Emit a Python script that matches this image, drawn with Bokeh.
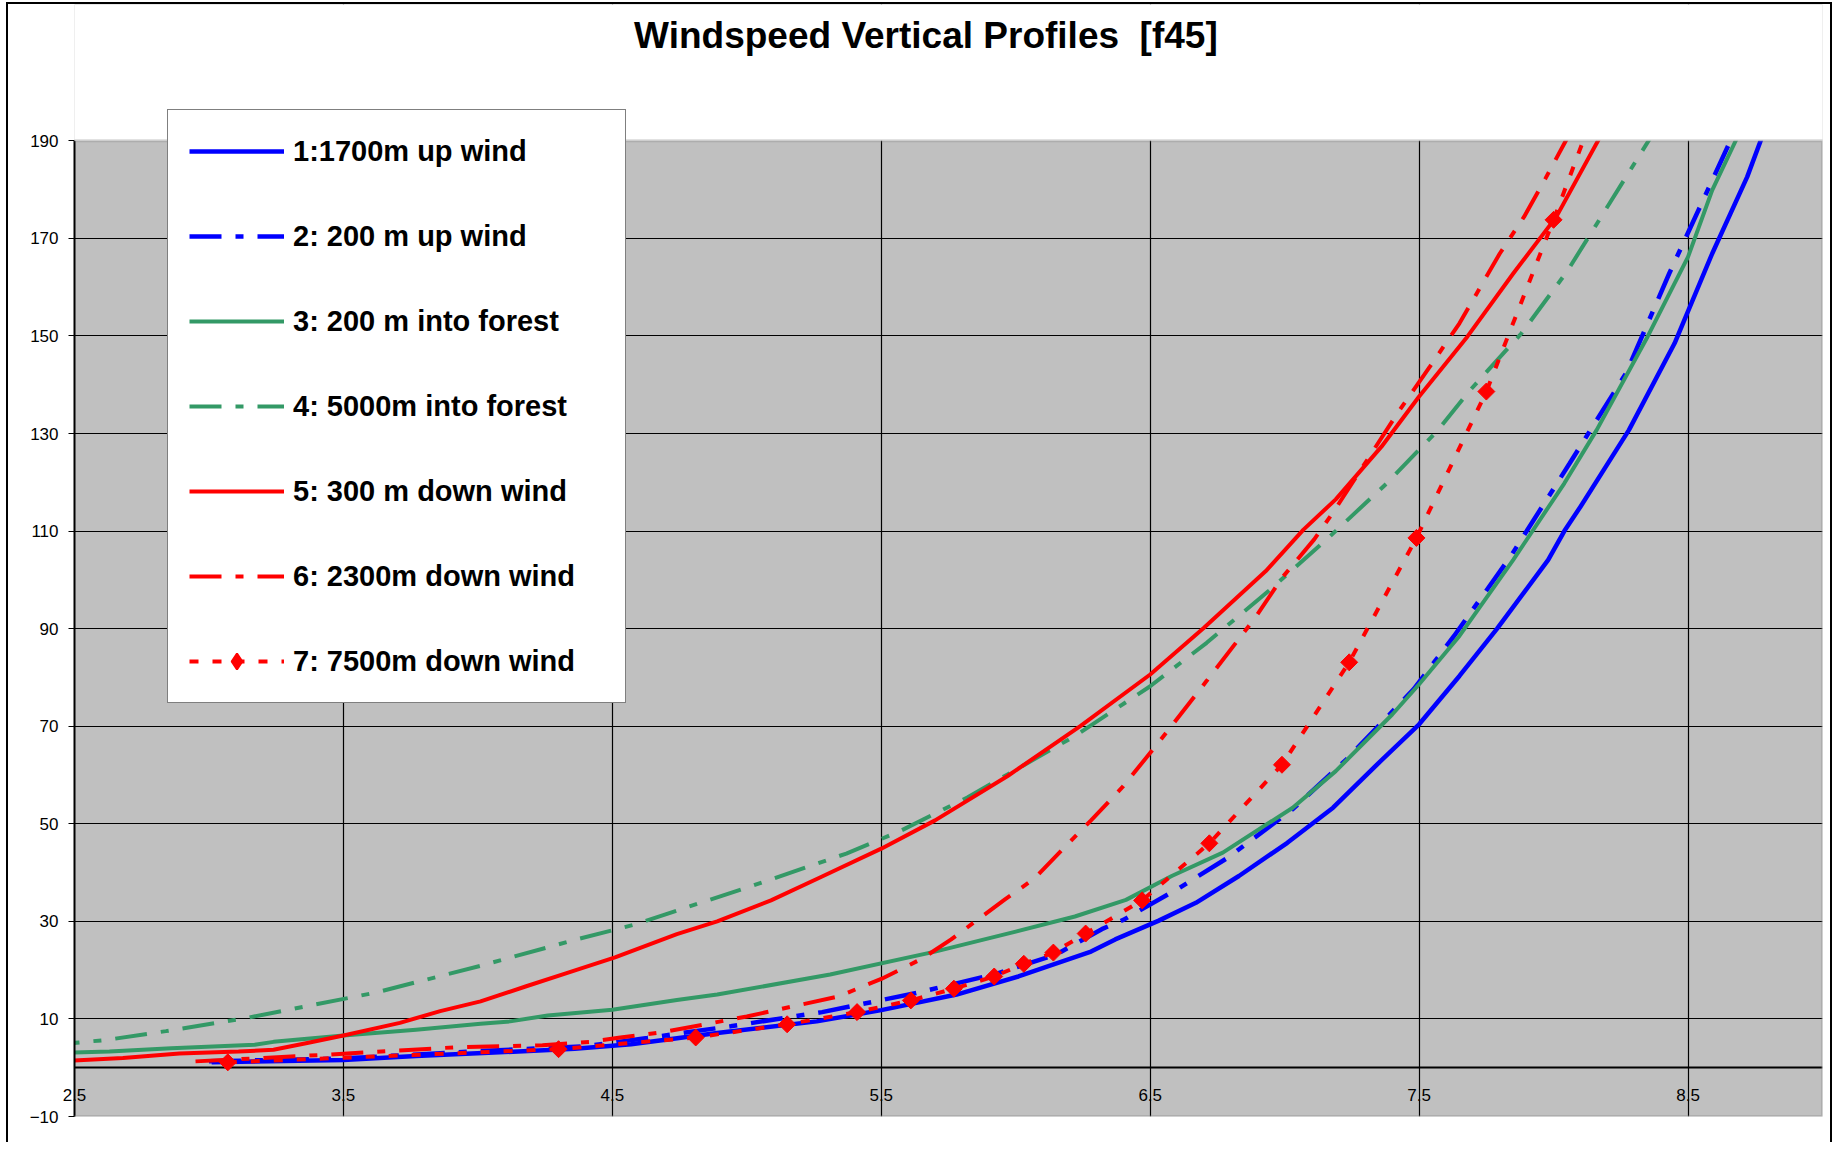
import math
from bokeh.plotting import figure
from bokeh.models import (Range1d, FixedTicker, Legend, LegendItem, Label, BoxAnnotation, Grid)
from bokeh.embed import file_html
from bokeh.resources import INLINE

TITLE = "Windspeed Vertical Profiles \u00a0[f45]"
x_ticks = [2.5, 3.5, 4.5, 5.5, 6.5, 7.5, 8.5]
y_ticks = [-10, 10, 30, 50, 70, 90, 110, 130, 150, 170, 190]

labels = ["1:1700m up wind", "2: 200 m up wind", "3: 200 m into forest",
          "4: 5000m into forest", "5: 300 m down wind", "6: 2300m down wind",
          "7: 7500m down wind"]

# series: windspeed (x) vs height (y)
s1_speed = [3.01, 3.50, 3.77, 4.06, 4.36, 4.57, 4.89, 5.26, 5.50, 5.78, 6.01, 6.28, 6.37, 6.53, 6.67,
            6.83, 7.01, 7.18, 7.35, 7.50, 7.65, 7.79, 7.98, 8.04, 8.10, 8.28, 8.45, 8.59, 8.72, 8.78]
s1_height = [1.1, 1.6, 2.4, 3.1, 3.9, 4.8, 7.1, 9.5, 11.8, 15.0, 18.7, 23.8, 26.3, 30.1, 33.8,
             39.3, 46.1, 53.3, 62.5, 70.4, 80.3, 90.0, 104.1, 110.0, 115.0, 130.7, 148.5, 166.9, 182.6, 191.5]

s2_speed = [3.00, 3.50, 4.00, 4.40, 4.63, 4.94, 5.28, 5.63, 5.93, 6.15, 6.32, 6.40, 6.61, 6.79,
            7.03, 7.23, 7.48, 7.63, 7.84, 8.06, 8.27, 8.43, 8.59, 8.67]
s2_height = [1.3, 1.9, 3.4, 4.4, 6.1, 8.5, 11.4, 15.3, 19.3, 23.2, 28.4, 30.3, 36.9, 43.1,
             53.0, 63.2, 77.6, 88.5, 104.8, 123.9, 142.4, 162.8, 181.9, 191.5]

s3_speed = [2.40, 2.63, 2.86, 3.17, 3.24, 3.50, 3.77, 4.01, 4.12, 4.26, 4.50, 4.74, 4.89, 5.31,
            5.70, 6.00, 6.22, 6.41, 6.58, 6.77, 7.03, 7.19, 7.40, 7.50, 7.65, 7.85, 8.04, 8.16,
            8.35, 8.50, 8.59, 8.69]
s3_height = [3.0, 3.3, 4.0, 4.7, 5.3, 6.6, 7.8, 9.0, 9.5, 10.7, 11.9, 13.9, 15.0, 19.1,
             23.8, 27.9, 31.0, 34.4, 39.3, 44.1, 53.3, 60.8, 72.4, 78.6, 88.5, 104.1, 119.8, 130.7,
             149.9, 166.2, 179.9, 191.5]

s4_speed = [2.40, 2.62, 2.84, 3.15, 3.62, 4.01, 4.36, 4.58, 5.01, 5.37, 5.57, 5.82, 6.22, 6.50,
            6.71, 6.94, 7.17, 7.38, 7.57, 7.69, 7.88, 8.05, 8.17, 8.37]
s4_height = [4.6, 5.7, 7.5, 10.3, 15.4, 20.9, 26.2, 29.3, 37.1, 43.9, 48.5, 55.4, 68.0, 78.2,
             87.1, 97.7, 109.0, 119.8, 130.7, 138.9, 150.5, 163.2, 173.8, 191.5]

s5_speed = [2.30, 2.47, 2.68, 2.89, 3.11, 3.24, 3.37, 3.50, 3.71, 3.86, 4.01, 4.18, 4.33, 4.51,
            4.74, 4.89, 5.09, 5.28, 5.50, 5.70, 5.97, 6.24, 6.50, 6.70, 6.93, 7.07, 7.19, 7.36,
            7.50, 7.68, 7.85, 8.01, 8.18]
s5_height = [1.2, 1.4, 2.0, 2.9, 3.3, 3.7, 5.1, 6.6, 9.2, 11.6, 13.6, 16.7, 19.4, 22.6,
             27.4, 30.0, 34.3, 39.2, 44.9, 50.7, 59.8, 70.0, 80.6, 90.2, 101.8, 110.3, 116.5, 127.3,
             137.6, 149.9, 162.8, 174.4, 191.5]

s6_speed = [2.95, 3.45, 3.92, 4.24, 4.42, 4.53, 4.69, 5.00, 5.34, 5.50, 5.65, 5.76, 5.96, 6.07,
            6.18, 6.28, 6.40, 6.54, 6.71, 6.89, 6.99, 7.11, 7.18, 7.42, 7.54, 7.65, 7.80, 7.89,
            7.97, 8.06]
s6_height = [1.3, 2.7, 4.2, 4.6, 5.3, 6.2, 7.3, 10.5, 14.6, 18.2, 22.3, 26.3, 34.5, 38.8,
             45.1, 50.7, 57.7, 67.3, 79.3, 92.2, 100.4, 108.3, 113.8, 134.2, 143.7, 152.6, 166.9, 174.4,
             182.3, 191.5]

s7_speed = [3.07, 4.30, 4.81, 5.15, 5.41, 5.61, 5.77, 5.92, 6.03, 6.14, 6.26, 6.47, 6.72, 6.99,
            7.24, 7.49, 7.75, 8.00, 8.28]
s7_height = [1.1, 3.8, 6.2, 8.9, 11.4, 13.8, 16.2, 18.7, 21.3, 23.6, 27.5, 34.3, 46.0, 62.1,
             83.1, 108.6, 138.6, 173.8, 215.0]

BLUE = "#0000FF"
GREEN = "#339966"
RED = "#FF0000"
DASHDOT = "32 14 8 14"
DOTTED = "9 14"
FONT = "Liberation Sans"

Y_TOP = 190
Y_VIEW_TOP = 217.94  # frame extends up to canvas top; area above 190 is masked white

p = figure(width=1826, height=1140, x_range=Range1d(2.5, 9.0), y_range=Range1d(-10, Y_VIEW_TOP),
           output_backend="svg", toolbar_location=None, title=None,
           min_border_left=66, min_border_right=12, min_border_top=0, min_border_bottom=28,
           background_fill_color="#C0C0C0", border_fill_color="white",
           outline_line_color=None)
p.styles = {"margin-left": "6px", "margin-top": "2px",
            "border-left": "2px solid black", "border-top": "2px solid black",
            "border-right": "2px solid black"}

# axes
p.xaxis.ticker = FixedTicker(ticks=x_ticks)
p.xaxis.axis_line_color = None
p.xaxis.major_tick_out = 0
p.xaxis.major_tick_in = 0
p.xaxis.minor_tick_out = 0
p.xaxis.minor_tick_in = 0
p.xaxis.major_label_standoff = -28
p.yaxis.ticker = FixedTicker(ticks=y_ticks)
p.yaxis.bounds = (-10, Y_TOP)
p.yaxis.axis_line_color = "black"
p.yaxis.axis_line_width = 2
p.yaxis.major_tick_out = 6
p.yaxis.major_tick_in = 0
p.yaxis.minor_tick_out = 0
p.yaxis.minor_tick_in = 0
p.yaxis.major_label_standoff = 10
for ax in (p.xaxis, p.yaxis):
    ax.major_label_text_font = FONT
    ax.major_label_text_font_size = "17px"
    ax.major_label_text_color = "black"
    ax.major_tick_line_color = "black"

p.xgrid.ticker = FixedTicker(ticks=x_ticks[1:])
p.ygrid.ticker = FixedTicker(ticks=y_ticks[1:-1])
p.grid.grid_line_color = "black"
p.grid.grid_line_width = 1.2
p.add_layout(Grid(dimension=1, ticker=FixedTicker(ticks=[0]), grid_line_color="black",
                  grid_line_width=2))

r1 = p.line(s1_speed, s1_height, line_color=BLUE, line_width=4.5, line_join="round")
r2 = p.line(s2_speed, s2_height, line_color=BLUE, line_width=4.5, line_dash=DASHDOT)
r3 = p.line(s3_speed, s3_height, line_color=GREEN, line_width=4, line_join="round")
r4 = p.line(s4_speed, s4_height, line_color=GREEN, line_width=4, line_dash=DASHDOT)
r5 = p.line(s5_speed, s5_height, line_color=RED, line_width=4, line_join="round")
r6 = p.line(s6_speed, s6_height, line_color=RED, line_width=4, line_dash=DASHDOT)
r7 = p.line(s7_speed, s7_height, line_color=RED, line_width=4, line_dash=DOTTED)
r7m = p.scatter(s7_speed, s7_height, marker="square", size=12, angle=math.pi / 4,
                fill_color=RED, line_color=RED)
# legend key for series 7 (its only point lies above the plot area and is masked)
r7key = p.scatter(s7_speed[-1:], s7_height[-1:], marker="diamond", size=20,
                  fill_color=RED, line_color=RED, line_width=2)

# mask above the plot area, then plot-area border (left edge hidden under the y axis)
p.add_layout(BoxAnnotation(left=2.0, right=10.0, bottom=Y_TOP, fill_color="white",
                           fill_alpha=1.0, line_color=None))
p.add_layout(BoxAnnotation(left=2.0, bottom=-10, top=Y_TOP, fill_alpha=0.0,
                           line_color="#808080", line_width=3))

legend = Legend(items=[LegendItem(label=labels[0], renderers=[r1]),
                       LegendItem(label=labels[1], renderers=[r2]),
                       LegendItem(label=labels[2], renderers=[r3]),
                       LegendItem(label=labels[3], renderers=[r4]),
                       LegendItem(label=labels[4], renderers=[r5]),
                       LegendItem(label=labels[5], renderers=[r6]),
                       LegendItem(label=labels[6], renderers=[r7, r7key])],
                location=(93, 413), orientation="vertical",
                label_text_font=FONT, label_text_font_style="bold",
                label_text_font_size="29px", label_text_color="black",
                label_height=40, glyph_height=40, glyph_width=95, label_standoff=9,
                label_width=311, spacing=45, padding=21, margin=0,
                border_line_color="black", border_line_width=1.5,
                background_fill_color="white", background_fill_alpha=1.0)
p.add_layout(legend, "center")

p.add_layout(Label(x=5.666, y=211.6, text=TITLE, text_font=FONT, text_font_style="bold",
                   text_font_size="37px", text_align="center", text_baseline="middle",
                   text_color="black"))

open("out.html", "w").write(file_html(p, INLINE))
